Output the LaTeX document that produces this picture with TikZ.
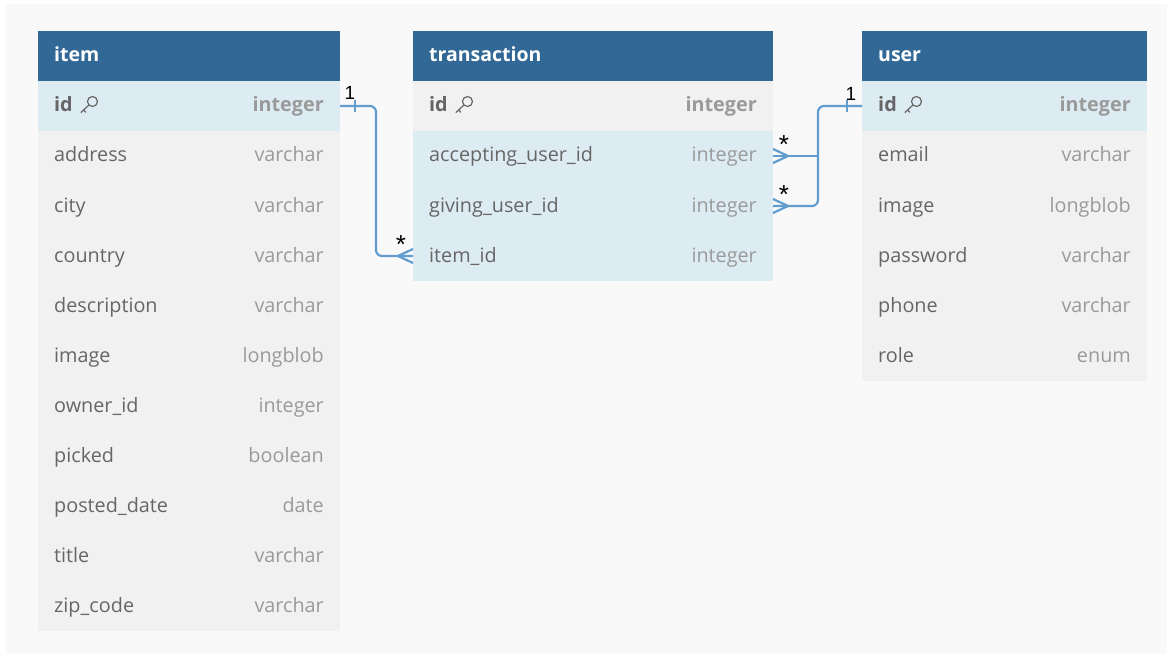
\documentclass[tikz,border=0pt]{standalone}
\usepackage{fontspec}
\setmainfont{Open Sans}
\newfontfamily\labelfont{Liberation Sans}
\usetikzlibrary{calc}
\definecolor{hdr}{HTML}{316896}
\definecolor{keyblue}{HTML}{DDEBF3}
\definecolor{rowgray}{HTML}{F1F1F1}
\definecolor{fieldcol}{HTML}{666666}
\definecolor{typecol}{HTML}{9A9A9A}
\definecolor{conncol}{HTML}{619CCF}
\definecolor{panel}{HTML}{F9F9F9}
\tikzset{
  rowbox/.style={rectangle, draw=none, inner sep=0pt, outer sep=0pt, minimum height=50pt, anchor=north west},
  hdrbox/.style={rowbox, fill=hdr},
  hdrtxt/.style={anchor=base west, inner sep=0pt, text=white, font=\fontsize{19.5}{22}\selectfont\bfseries},
  fieldtxt/.style={anchor=base west, inner sep=0pt, text=fieldcol, font=\fontsize{19.8}{22}\selectfont},
  typetxt/.style={anchor=base east, inner sep=0pt, text=typecol, font=\fontsize{19.8}{22}\selectfont},
  keyfield/.style={fieldtxt, font=\fontsize{19.8}{22}\selectfont\bfseries},
  keytype/.style={typetxt, font=\fontsize{19.8}{22}\selectfont\bfseries},
  conn/.style={draw=conncol, line width=2.2pt},
  cardlbl/.style={inner sep=0pt, text=black, font=\labelfont\fontsize{19}{20}\selectfont},
  starlbl/.style={inner sep=0pt, text=black, font=\labelfont\fontsize{26}{26}\selectfont},
  keyline/.style={draw=fieldcol, line width=1.2pt}
}
\newcommand{\dbhead}[4]{% name, x, width, title
  \node[hdrbox, minimum width=#3pt] (#1) at (#2,31) {};
  \node[hdrtxt] (#1-title) at ([xshift=16pt,yshift=-6pt]#1.west) {#4};
}
\newcommand{\dbrow}[7]{% name, x, y, width, fill, field, type
  \node[rowbox, fill=#5, minimum width=#4pt] (#1) at (#2,#3) {};
  \node[fieldtxt] (#1-f) at ([xshift=16pt,yshift=-6pt]#1.west) {#6};
  \node[typetxt] (#1-t) at ([xshift=-16pt,yshift=-6pt]#1.east) {#7};
}
\newcommand{\dbkeyrow}[5]{% name, x, width, fill, type
  \node[rowbox, fill=#4, minimum width=#3pt] (#1) at (#2,81) {};
  \node[keyfield] (#1-f) at ([xshift=16pt,yshift=-6pt]#1.west) {id};
  \node[keytype] (#1-t) at ([xshift=-16pt,yshift=-6pt]#1.east) {#5};
  \begin{scope}[shift={(#1-f.base east)}]
    \draw[keyline] (19.5,-10.5) circle (5pt);
    \draw[keyline, line cap=round] (16,-7) -- (8,0.5);
    \draw[keyline, line cap=round] (10.6,-2) -- (12.8,0.2);
  \end{scope}
}
\begin{document}
\begin{tikzpicture}[x=1pt, y=-1pt]
\useasboundingbox (0,0) rectangle (1174,655);
\fill[white] (0,0) rectangle (1174,655);
\fill[panel] (6,4) rectangle (1167,654);

% item table
\dbhead{item}{38}{302}{item}
\dbkeyrow{item-1}{38}{302}{keyblue}{integer}
\foreach \f/\t [count=\i from 2] in {address/varchar, city/varchar, country/varchar, description/varchar, image/longblob, owner\_id/integer, picked/boolean, posted\_date/date, title/varchar, zip\_code/varchar}{
  \pgfmathsetmacro\yy{31+50*\i}
  \dbrow{item-\i}{38}{\yy}{302}{rowgray}{\f}{\t}
}

% transaction table
\dbhead{tr}{413}{360}{transaction}
\dbkeyrow{tr-1}{413}{360}{rowgray}{integer}
\foreach \f/\t [count=\i from 2] in {accepting\_user\_id/integer, giving\_user\_id/integer, item\_id/integer}{
  \pgfmathsetmacro\yy{31+50*\i}
  \dbrow{tr-\i}{413}{\yy}{360}{keyblue}{\f}{\t}
}

% user table
\dbhead{user}{862}{285}{user}
\dbkeyrow{user-1}{862}{285}{keyblue}{integer}
\foreach \f/\t [count=\i from 2] in {email/varchar, image/longblob, password/varchar, phone/varchar, role/enum}{
  \pgfmathsetmacro\yy{31+50*\i}
  \dbrow{user-\i}{862}{\yy}{285}{rowgray}{\f}{\t}
}

% item.id 1 -- * transaction.item_id
\coordinate (it) at (376,106);
\draw[conn, rounded corners=6pt] (item-1.east) -- (it) |- (tr-4.west);
\draw[conn] ($(item-1.east)+(15,-6)$) -- ($(item-1.east)+(15,6)$);
\draw[conn] ($(tr-4.west)+(0,-7)$) -- ($(tr-4.west)+(-15,0)$) -- ($(tr-4.west)+(0,7)$);
\node[cardlbl] (l1) at (350,93) {1};
\node[starlbl] (l2) at (401,245) {*};

% user.id 1 -- * transaction.accepting/giving
\coordinate (ut) at (818,106);
\draw[conn, rounded corners=6pt] (user-1.west) -- (ut) |- (tr-3.east);
\draw[conn] (tr-2.east) -- (tr-2.east -| ut);
\draw[conn] ($(user-1.west)+(-15,-6)$) -- ($(user-1.west)+(-15,6)$);
\draw[conn] ($(tr-2.east)+(0,-7)$) -- ($(tr-2.east)+(15,0)$) -- ($(tr-2.east)+(0,7)$);
\draw[conn] ($(tr-3.east)+(0,-7)$) -- ($(tr-3.east)+(15,0)$) -- ($(tr-3.east)+(0,7)$);
\node[cardlbl] (l3) at (851,94) {1};
\node[starlbl] (l4) at (784,145) {*};
\node[starlbl] (l5) at (784,195) {*};
\end{tikzpicture}
\end{document}
